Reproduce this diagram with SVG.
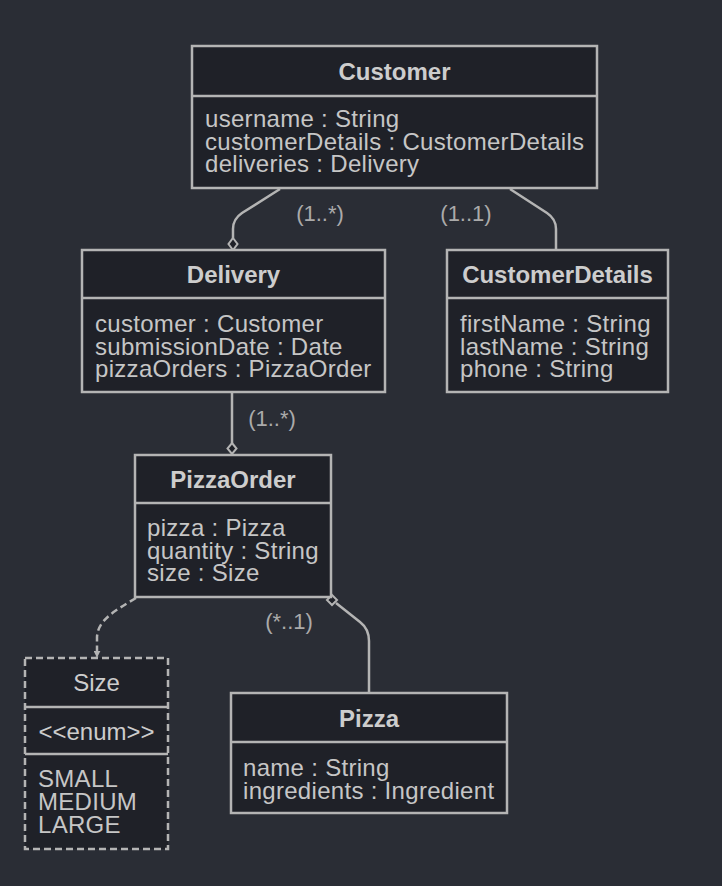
<svg xmlns="http://www.w3.org/2000/svg" width="722" height="886" viewBox="0 0 722 886">
<defs>
<style>
.box{fill:#1f2128;stroke:#b4b4b4;stroke-width:2.5}
.dbox{fill:#1f2128;stroke:#b4b4b4;stroke-width:2.5;stroke-dasharray:7 4}
.div{stroke:#b4b4b4;stroke-width:2.5}
.title{font-family:"Liberation Sans",Arial,sans-serif;font-size:24px;font-weight:bold;fill:#cdcdcd;text-anchor:middle}
.ntitle{font-family:"Liberation Sans",Arial,sans-serif;font-size:24px;fill:#cdcdcd;text-anchor:middle}
.attr{font-family:"Liberation Sans",Arial,sans-serif;font-size:24px;fill:#c6c6c6;letter-spacing:0.3px}
.lbl{font-family:"Liberation Sans",Arial,sans-serif;font-size:22px;fill:#aaaaaa;text-anchor:middle}
.edge{fill:none;stroke:#b4b4b4;stroke-width:2.5}
.dash{fill:none;stroke:#b4b4b4;stroke-width:2.5;stroke-dasharray:7 4}
.dia{fill:#1f2128;stroke:#b4b4b4;stroke-width:2}
</style>
<marker id="arrow" viewBox="0 0 10 10" refX="9" refY="5" markerWidth="7" markerHeight="7" orient="auto" markerUnits="userSpaceOnUse">
<path d="M0,0 L10,5 L0,10 z" fill="#b4b4b4"/>
</marker>
</defs>
<rect width="722" height="886" fill="#2a2d35"/>

<g id="connectors">
<path class="edge" d="M280,189 L242,213 Q233,219 233,229 L233,238"/>
<polygon class="dia" points="233,238 237.5,244 233,250 228.5,244"/>
<path class="edge" d="M510,189 L547,213 Q556,219 556,229 L556,250"/>
<path class="edge" d="M232,392 L232,443"/>
<polygon class="dia" points="232,443 236.5,448.5 232,454 227.5,448.5"/>
<path class="dash" d="M136,598 C116,610 97,620 97,638 L97,657" marker-end="url(#arrow)"/>
<path class="edge" d="M336,603 L360,622 Q369,629 369,641 L369,693"/>
<polygon class="dia" points="332,595 337,600 332,605 327,600"/>
<text class="lbl" x="320" y="221">(1..*)</text>
<text class="lbl" x="466" y="221">(1..1)</text>
<text class="lbl" x="272" y="426">(1..*)</text>
<text class="lbl" x="289" y="629">(*..1)</text>
</g>

<g id="Customer">
<rect class="box" x="192" y="46" width="405" height="142"/>
<line class="div" x1="192" y1="96" x2="597" y2="96"/>
<text class="title" x="394.5" y="80">Customer</text>
<text class="attr" x="205" y="127">username : String</text>
<text class="attr" x="205" y="150">customerDetails : CustomerDetails</text>
<text class="attr" x="205" y="172">deliveries : Delivery</text>
</g>

<g id="Delivery">
<rect class="box" x="82" y="250" width="303" height="142"/>
<line class="div" x1="82" y1="298" x2="385" y2="298"/>
<text class="title" x="233.5" y="283">Delivery</text>
<text class="attr" x="95" y="332">customer : Customer</text>
<text class="attr" x="95" y="355">submissionDate : Date</text>
<text class="attr" x="95" y="377">pizzaOrders : PizzaOrder</text>
</g>

<g id="CustomerDetails">
<rect class="box" x="447" y="250" width="221" height="142"/>
<line class="div" x1="447" y1="298" x2="668" y2="298"/>
<text class="title" x="557.5" y="283">CustomerDetails</text>
<text class="attr" x="460" y="332">firstName : String</text>
<text class="attr" x="460" y="355">lastName : String</text>
<text class="attr" x="460" y="377">phone : String</text>
</g>

<g id="PizzaOrder">
<rect class="box" x="135" y="455" width="196" height="142"/>
<line class="div" x1="135" y1="503" x2="331" y2="503"/>
<text class="title" x="233" y="488">PizzaOrder</text>
<text class="attr" x="147" y="536">pizza : Pizza</text>
<text class="attr" x="147" y="559">quantity : String</text>
<text class="attr" x="147" y="581">size : Size</text>
</g>

<g id="Size">
<rect class="dbox" x="25" y="658" width="143" height="191"/>
<line class="div" x1="25" y1="707" x2="168" y2="707"/>
<line class="div" x1="25" y1="754" x2="168" y2="754"/>
<text class="ntitle" x="96.5" y="691">Size</text>
<text class="ntitle" x="96.5" y="740">&lt;&lt;enum&gt;&gt;</text>
<text class="attr" x="38" y="787">SMALL</text>
<text class="attr" x="38" y="810">MEDIUM</text>
<text class="attr" x="38" y="833">LARGE</text>
</g>

<g id="Pizza">
<rect class="box" x="231" y="693" width="276" height="120"/>
<line class="div" x1="231" y1="742" x2="507" y2="742"/>
<text class="title" x="369" y="727">Pizza</text>
<text class="attr" x="243" y="776">name : String</text>
<text class="attr" x="243" y="799">ingredients : Ingredient</text>
</g>
</svg>
